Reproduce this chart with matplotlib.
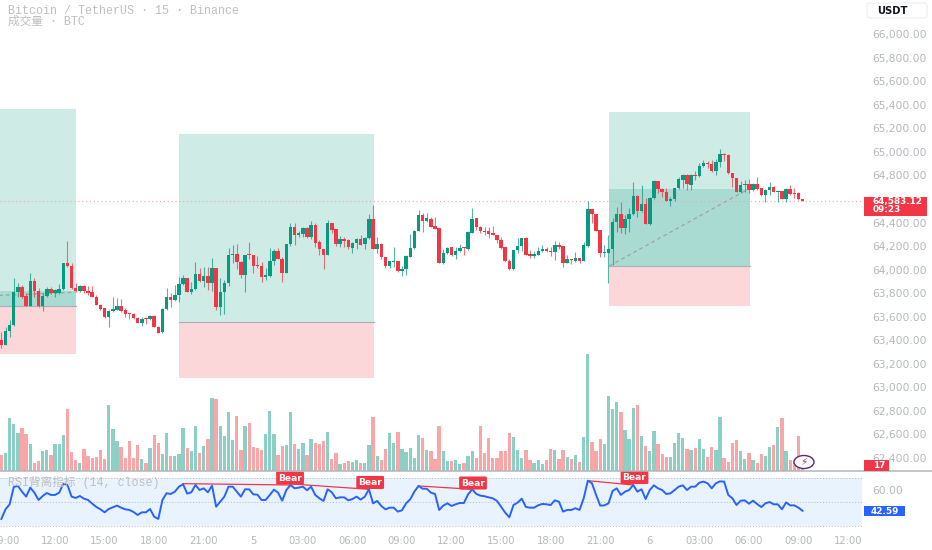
import numpy as np
import matplotlib
matplotlib.use("Agg")
import matplotlib.pyplot as plt
from matplotlib.patches import Rectangle, FancyBboxPatch, Ellipse

W, H = 932, 550
GREEN, RED = "#089981", "#F23645"
VGREEN, VRED = "#8CCFC4", "#FAA6A9"
GREY = "#B4B7BD"

first_index = -1
opens = [63402,63360,63479,63530,63813,63850,63776,63691,63903,63821,
         63691,63776,63838,63804,63801,63835,64053,64031,63844,63818,
         63861,63821,63807,63767,63702,63671,63598,63646,63660,63688,
         63654,63629,63623,63592,63550,63592,63578,63609,63516,63468,
         63666,63765,63742,63784,63878,63926,63813,63835,63966,63903,
         63946,63889,64014,63685,63810,63889,64124,64130,64065,63951,
         64130,64124,64034,64031,63940,63946,64070,64158,64090,63971,
         64217,64365,64294,64300,64350,64280,64382,64234,64175,64124,
         64393,64342,64220,64263,64251,64186,64223,64263,64215,64268,
         64427,64172,64215,64104,64034,64067,64073,63985,64008,64110,
         64183,64331,
         64461,64416,64433,64370,64353,64059,64138,64189,64127,64158,
         64186,64172,64314,64435,64359,64328,64325,64311,64297,64252,
         64189,64076,64002,64164,64201,64268,64130,64118,64127,64155,
         64172,64158,64150,64209,64198,64059,64090,64073,64102,64076,
         64201,64515,64472,64336,
         64144,64142,64176,64408,64473,64354,64430,64476,64628,64501,
         64558,64388,64611,64750,64685,64660,64586,64600,64691,64764,
         64801,64722,64801,64795,64880,64909,64897,64838,64914,64982,
         64976,64821,64778,64660,64722,64730,64679,64725,64691,64634,
         64674,64702,64662,64665,64600,64682,64648,64648,64603]
highs = [63473,63516,63572,63926,63883,63869,63799,63974,63926,63841,
         63799,63850,63850,63833,63878,64053,64246,64053,63889,63869,
         63869,63861,63861,63784,63708,63671,63657,63765,63756,63750,
         63671,63629,63629,63595,63595,63600,63612,63615,63521,63671,
         63841,63799,63869,63940,63954,63926,63898,64062,64011,64025,
         64025,64096,64014,63926,63912,64181,64209,64217,64073,64124,
         64237,64124,64116,64067,64017,64181,64172,64181,64104,64220,
         64399,64399,64328,64359,64359,64416,64393,64251,64175,64421,
         64399,64345,64285,64274,64257,64237,64271,64294,64274,64472,
         64549,64280,64223,64110,64070,64195,64073,64031,64121,64302,
         64336,64506,
         64484,64484,64444,64444,64353,64172,64189,64195,64195,64215,
         64189,64331,64520,64435,64370,64365,64359,64373,64297,64280,
         64189,64087,64167,64266,64268,64280,64167,64158,64189,64209,
         64189,64189,64243,64237,64203,64124,64090,64152,64102,64232,
         64580,64515,64472,64336,
         64210,64294,64436,64535,64577,64464,64521,64742,64634,64719,
         64606,64614,64761,64756,64691,64696,64614,64693,64784,64810,
         64812,64810,64841,64909,64931,64926,64931,64937,65022,64993,
         64982,64824,64781,64750,64761,64767,64733,64784,64696,64682,
         64747,64708,64676,64671,64691,64719,64691,64657,64603]
lows = [63332,63360,63425,63521,63770,63756,63691,63691,63770,63685,
        63651,63765,63793,63765,63793,63827,64025,63833,63813,63813,
        63799,63784,63765,63697,63657,63589,63516,63643,63657,63643,
        63600,63578,63584,63544,63521,63538,63572,63510,63459,63465,
        63657,63685,63736,63728,63869,63810,63793,63827,63898,63850,
        63827,63821,63657,63615,63620,63861,64059,64002,63932,63813,
        64087,63968,64011,63898,63912,63940,64039,64087,63898,63968,
        64200,64209,64274,64274,64266,64257,64195,64124,64002,64124,
        64308,64203,64195,64195,64178,64144,64175,64209,64175,64263,
        64172,64144,64087,64011,64011,64025,63983,63949,63954,64110,
        64178,64325,
        64322,64407,64359,64342,64059,64048,64133,64118,64090,64152,
        64124,64167,64308,64336,64308,64291,64271,64291,64229,64172,
        64065,63997,63997,64138,64161,64121,64096,64099,64121,64152,
        64152,64116,64082,64178,64025,64053,64048,64068,64059,64073,
        64195,64393,64325,64110,
        64110,63884,64040,64323,64309,64303,64323,64464,64444,64493,
        64388,64382,64603,64654,64620,64580,64543,64586,64685,64691,
        64676,64676,64761,64784,64869,64860,64832,64804,64869,64926,
        64812,64705,64660,64654,64662,64648,64671,64676,64626,64577,
        64634,64660,64577,64597,64575,64634,64606,64592,64583]
closes = [63360,63479,63530,63813,63850,63770,63691,63903,63818,63691,
          63776,63838,63804,63827,63835,64053,64031,63841,63818,63861,
          63818,63804,63767,63702,63666,63595,63649,63666,63688,63649,
          63623,63620,63586,63550,63578,63578,63606,63516,63465,63666,
          63765,63742,63784,63878,63926,63813,63835,63966,63903,63946,
          63889,64014,63685,63810,63889,64124,64130,64065,63951,64124,
          64121,64031,64028,63940,63951,64070,64158,64090,63971,64220,
          64365,64294,64308,64350,64280,64379,64229,64175,64124,64393,
          64336,64220,64257,64246,64189,64229,64263,64212,64268,64427,
          64172,64215,64104,64034,64070,64073,63985,64008,64116,64183,
          64331,64461,
          64416,64435,64365,64348,64059,64144,64186,64127,64161,64181,
          64181,64319,64433,64359,64328,64317,64302,64294,64249,64184,
          64073,64002,64167,64201,64268,64127,64116,64130,64158,64172,
          64155,64150,64209,64192,64059,64093,64079,64102,64073,64206,
          64518,64469,64331,64138,
          64150,64176,64408,64473,64354,64430,64476,64628,64501,64555,
          64388,64611,64750,64685,64657,64586,64603,64693,64767,64801,
          64725,64801,64795,64883,64909,64894,64838,64917,64979,64974,
          64818,64778,64662,64719,64727,64679,64725,64688,64634,64676,
          64702,64662,64668,64600,64682,64643,64643,64600,64583.12]

volumes = [49,55,158,142,113,129,112,82,24,31,
           59,63,49,82,80,108,187,58,33,24,
           66,46,38,41,64,37,198,126,91,73,
           39,89,40,79,36,25,70,108,84,51,
           113,44,44,51,129,68,61,134,54,76,
           96,220,216,136,106,176,94,164,64,134,
           144,73,70,64,110,181,110,49,76,77,
           178,82,66,84,48,95,85,80,89,118,
           37,54,22,23,31,28,33,23,24,78,
           163,46,34,66,113,83,116,65,56,68,
           40,108,99,63,59,35,135,61,29,31,
           34,22,23,46,61,40,135,55,99,39,
           40,59,61,113,103,63,38,64,33,24,
           34,20,32,66,64,36,64,42,37,47,
           26,103,352,86,60,97,81,226,186,208,
           178,124,96,190,199,106,76,60,121,81,
           52,41,41,85,113,98,67,64,70,95,
           65,41,73,64,162,38,28,83,92,61,
           37,53,33,25,50,46,71,78,131,158,
           60,34,31,106,17]

rsi = [35.8,43.8,48.0,62.4,63.3,58.5,54.4,61.9,57.7,51.6,
       54.9,57.4,55.8,55.8,57.7,65.2,64.1,54.4,53.3,54.9,
       52.7,51.6,48.5,45.8,43.8,41.3,44.1,45.5,46.9,45.2,
       43.8,43.3,41.6,39.1,41.3,41.3,44.1,37.7,35.8,51.6,
       57.2,56.6,58.5,62.7,64.7,56.9,58.0,64.1,59.9,61.3,
       58.0,63.5,46.0,50.2,54.4,62.7,62.7,58.5,54.4,60.5,
       60.5,56.3,56.0,51.6,51.6,55.8,60.2,57.7,51.0,59.9,
       64.1,61.3,61.9,
       62.7,59.7,62.7,55.8,53.0,50.8,60.5,58.0,53.0,53.8,
       53.8,51.3,52.4,54.4,51.9,54.4,60.5,48.8,50.8,46.6,
       43.8,45.2,45.2,41.9,43.0,48.8,52.2,58.5,63.3,61.0,
       61.0,57.7,56.6,43.3,46.9,48.8,46.6,48.0,49.1,49.1,
       56.3,60.5,56.6,55.2,54.7,53.8,53.0,50.8,46.0,41.0,
       37.2,47.4,49.4,52.7,45.8,45.2,45.2,47.2,48.3,48.0,
       47.4,51.3,50.2,41.9,43.3,43.3,44.7,43.3,53.0,67.7,
       65.5,55.8,46.9,47.1,48.8,59.1,61.3,55.8,58.5,59.9,
       64.1,58.5,60.5,52.4,59.9,63.8,61.3,59.9,56.6,57.1,
       59.9,62.7,63.8,59.9,62.7,62.7,66.0,66.9,65.5,61.3,
       65.5,67.1,66.9,55.8,53.0,47.4,51.0,51.3,48.5,51.0,
       48.2,45.7,48.8,49.9,48.0,48.0,43.8,49.6,47.1,47.1,
       45.2,42.59]

price_ticks = [62400,62600,62800,63000,63200,63400,63600,63800,64000,64200,
               64400,64800,65000,65200,65400,65600,65800,66000]
time_ticks = [0,12,24,36,48,60,72,84,96,108,120,132,144,156,168,180,192,204]
time_labels = ["09:00","12:00","15:00","18:00","21:00","5","03:00","06:00","09:00",
               "12:00","15:00","18:00","21:00","6","03:00","06:00","09:00","12:00"]

# position tools: start, end, target, entry, stop
tools = [(-3, 17, 65364, 63692, 63284),
         (42, 89.2, 65152, 63551, 63080),
         (146.2, 180.2, 65339, 64031, 63687)]
tool_fill = [(-3, 17, 63692, 63819), (146.2, 180.2, 64031, 64685)]
tool_paths = [((-3, 63779), (17, 63808)), ((146.2, 64031), (180.2, 64691))]

bear_lines = [((43, 65.2), (69, 64.1)), ((69, 65.0), (88, 60.5)),
              ((100, 63.3), (113, 60.5)), ((141, 67.7), (152, 64.1))]
bear_tags = [(68.9, 69.9), (88.3, 66.2), (113.2, 65.75), (152.3, 70.3)]

idx = np.arange(first_index, first_index + len(opens))

plt.rcParams["font.family"] = ["DejaVu Sans"]
fig = plt.figure(figsize=(W / 100, H / 100), dpi=100, facecolor="white")


def box(x0, y0, x1, y1):
    return [x0 / W, 1 - y1 / H, (x1 - x0) / W, (y1 - y0) / H]


XLIM = ((0 - 5.5) / 4.13, (862 - 5.5) / 4.13)
PX_PER = 8.497


def price_at(y):
    return 64583.12 - (y - 201) * PX_PER


# ---- volume
ax_v = fig.add_axes(box(0, 0, 862, 471), zorder=1)
ax_v.set_xlim(*XLIM)
ax_v.set_ylim(0, 471 * 3)
ax_v.axis("off")
up = np.array(closes) >= np.array(opens)
ax_v.bar(idx, volumes, width=0.8, color=[VGREEN if u else VRED for u in up], linewidth=0)

# ---- price
ax = fig.add_axes(box(0, 0, 862, 471), zorder=2)
ax.patch.set_alpha(0)
ax.set_xlim(*XLIM)
ax.set_ylim(price_at(471), price_at(0))
for s in ax.spines.values():
    s.set_visible(False)
ax.set_xticks([])
ax.yaxis.tick_right()
ax.set_yticks(price_ticks)
ax.set_yticklabels([f"{p:,.2f}" for p in price_ticks], fontsize=7.7, color=GREY)
ax.tick_params(axis="y", length=0, pad=7.5)
for lab in ax.get_yticklabels():
    lab.set_ha("left")

for (a, b, top, entry, stop) in tools:
    ax.add_patch(Rectangle((a, entry), b - a, top - entry, fc="#CFEBE6", ec="none", zorder=1))
    ax.add_patch(Rectangle((a, stop), b - a, entry - stop, fc="#FCD7DA", ec="none", zorder=1))
    ax.plot([a, b], [entry, entry], color="#A8B0B3", lw=0.8, zorder=1.5)
for (a, b, lo, hi) in tool_fill:
    ax.add_patch(Rectangle((a, lo), b - a, hi - lo, fc="#A9DBD2", ec="none", zorder=1.2))
for (p0, p1) in tool_paths:
    ax.plot([p0[0], p1[0]], [p0[1], p1[1]], color="#9AA5A8", lw=0.9, ls=(0, (3, 2.5)), zorder=1.6)

ax.axhline(closes[-1], color="#F6A4AB", lw=0.8, ls=(0, (1, 2.5)), zorder=1.7)

for i, o, h, l, c in zip(idx, opens, highs, lows, closes):
    col = GREEN if c >= o else RED
    ax.plot([i, i], [l, h], color=col, lw=0.8, alpha=0.7, solid_capstyle="butt", zorder=2)
    ax.add_patch(Rectangle((i - 0.42, min(o, c)), 0.84, max(abs(c - o), 8), fc=col, ec="none", zorder=3))

# ---- RSI
ax_r = fig.add_axes(box(0, 472, 862, 530), zorder=3)
ax_r.patch.set_alpha(0)
ax_r.set_xlim(*XLIM)
ax_r.set_ylim(50 + (501.9 - 530) / 1.2, 50 + (501.9 - 472) / 1.2)
for s in ax_r.spines.values():
    s.set_visible(False)
ax_r.axhspan(30, 70, fc="#E8F3FD", ec="none", zorder=0)
for lvl in (30, 50, 70):
    ax_r.axhline(lvl, color="#B7BABF", lw=0.7, ls=(0, (1, 2)), zorder=1)
ax_r.plot(idx, rsi, color="#2962FF", lw=1.4, zorder=3, solid_joinstyle="round")
for (p0, p1) in bear_lines:
    ax_r.plot([p0[0], p1[0]], [p0[1], p1[1]], color=RED, lw=0.9, zorder=2.5)
for (tx, ty) in bear_tags:
    ax_r.text(tx, ty, "Bear", color="white", fontsize=6.6, fontweight="bold", ha="center", va="center",
              zorder=5, clip_on=False,
              bbox=dict(boxstyle="round,pad=0.22,rounding_size=0.15", fc=RED, ec="none"))
ax_r.xaxis.tick_bottom()
ax_r.set_xticks(time_ticks)
ax_r.set_xticklabels(time_labels, fontsize=7.2, color=GREY)
ax_r.tick_params(axis="x", length=0, pad=4.2)
ax_r.yaxis.tick_right()
ax_r.set_yticks([60])
ax_r.set_yticklabels(["60.00"], fontsize=7.7, color=GREY)
ax_r.tick_params(axis="y", length=0, pad=7.5)
for lab in ax_r.get_yticklabels():
    lab.set_ha("left")


# ---- chrome in pixel coordinates
def fx(x):
    return x / W


def fy(y):
    return 1 - y / H


def rect(x0, y0, x1, y1, color):
    fig.add_artist(Rectangle((fx(x0), fy(y1)), (x1 - x0) / W, (y1 - y0) / H, transform=fig.transFigure,
                             fc=color, ec="none", zorder=10))


def label(x, y, s, **kw):
    fig.text(fx(x), fy(y), s, zorder=11, va="center", **kw)


fig.add_artist(plt.Line2D([0, 1], [fy(471), fy(471)], color="#B2B5BA", lw=1.1, zorder=9))

mono = ["Liberation Mono", "Noto Sans CJK SC", "DejaVu Sans"]
label(8, 11, "Bitcoin / TetherUS · 15 · Binance", color="#BDBFC3", fontsize=8.4, family=mono)
label(8, 22, "成交量 · BTC", color="#BDBFC3", fontsize=8.4, family=mono)
label(8, 482.5, "RSI背离指标 (14, close)", color="#BDBFC3", fontsize=8.4, family=mono)

fig.add_artist(FancyBboxPatch((867, H - 18), 60, 15, boxstyle="round,pad=0,rounding_size=3",
                              transform=None, fc="white", ec="#EDEEF0", lw=0.8, zorder=10))
label(877, 11, "USDT", color="#131722", fontsize=7.2, fontweight="bold")

rect(864, 197, 926.5, 215.5, RED)
label(872.5, 201.5, f"{closes[-1]:,.2f}", color="white", fontsize=6.4, fontweight="bold")
label(872.5, 210, "09:23", color="white", fontsize=6.4, fontweight="bold")

rect(864, 460, 889, 470.5, RED)
label(873, 465.5, str(volumes[-1]), color="white", fontsize=6.4, fontweight="bold")

rect(864, 506, 905, 516, "#2962FF")
label(871, 511, f"{rsi[-1]:.2f}", color="white", fontsize=6.4, fontweight="bold")

fig.add_artist(Ellipse((fx(804), fy(462)), 20 / W, 13 / H, transform=fig.transFigure,
                       fc="white", ec="#5B2A6E", lw=1.0, zorder=10))
fig.text(fx(804), fy(462), "\u26a1", color="#8E3F6F", fontsize=7.5, ha="center", va="center",
         zorder=11, family="DejaVu Sans")

fig.savefig("out.png", dpi=100)
